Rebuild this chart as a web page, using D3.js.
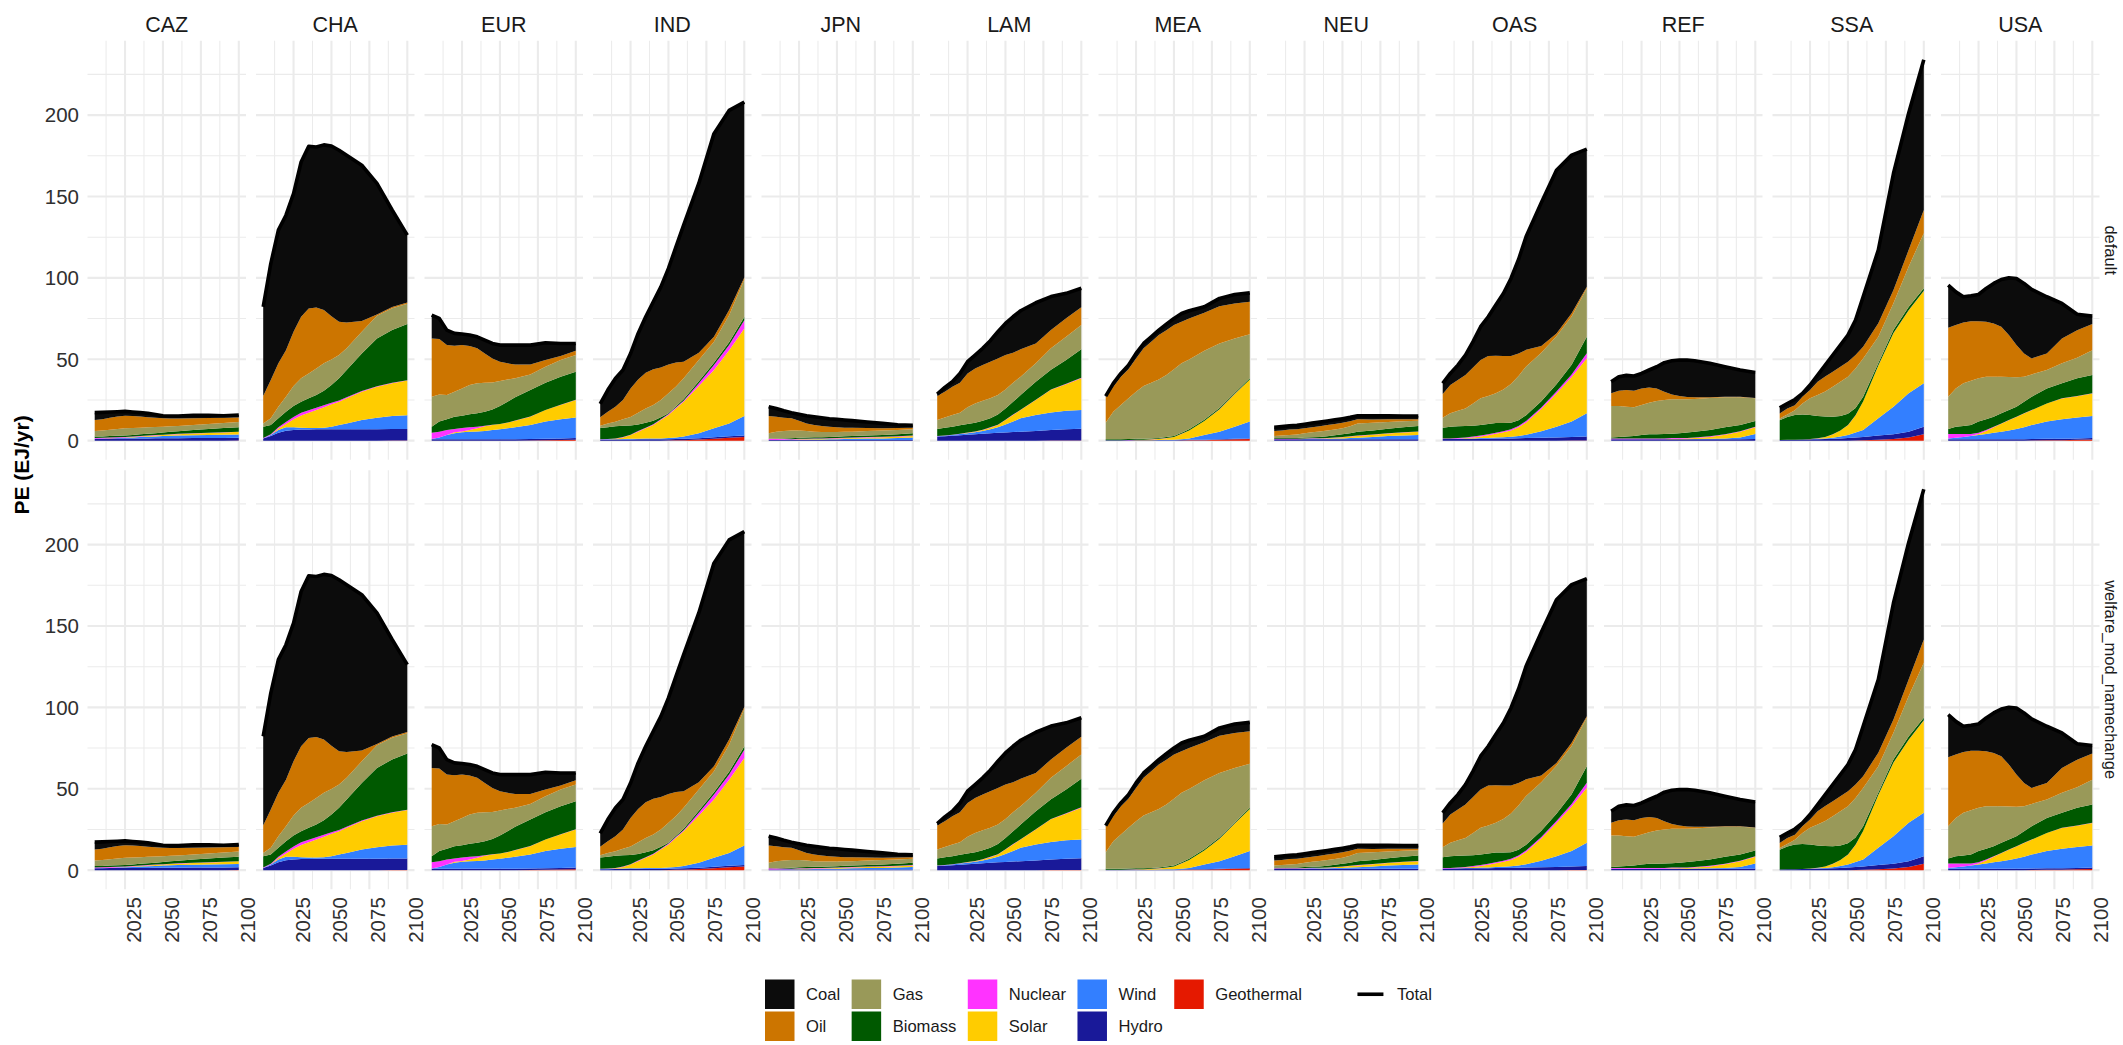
<!DOCTYPE html>
<html>
<head>
<meta charset="utf-8">
<script src="https://cdn.jsdelivr.net/npm/d3@7"></script>
<style>
  body { margin: 0; background: #ffffff; }
  svg { display: block; }
  text { font-family: "Liberation Sans", Arial, Helvetica, sans-serif; }
</style>
</head>
<body>
<svg id="chart" width="2123" height="1045"></svg>
<script>
// ---------------- DATA ----------------
const years = [2005, 2010, 2015, 2020, 2025, 2030, 2035, 2040, 2045, 2050, 2055, 2060, 2070, 2080, 2090, 2100];
const regions = ["CAZ", "CHA", "EUR", "IND", "JPN", "LAM", "MEA", "NEU", "OAS", "REF", "SSA", "USA"];
const scenarios = ["default", "welfare_mod_namechange"];
const categories = ["Coal", "Oil", "Gas", "Biomass", "Nuclear", "Solar", "Wind", "Hydro", "Geothermal"];
const categoryColors = ["#0c0c0c", "#cc7500", "#999959", "#005900", "#ff33ff", "#ffcc00", "#337fff", "#191999", "#e51900"];
const yTicks = [0, 50, 100, 150, 200];
const xTicks = [2025, 2050, 2075, 2100];
const yAxisTitle = "PE (EJ/yr)";
const totalLabel = "Total";

// Each region: rows in the order of `categories` (EJ/yr), columns follow `years`.
const CAZ = [
  [4.5, 4.2, 3.6, 3.0, 2.7, 2.4, 2.4, 2.4, 2.0, 1.6, 1.5, 1.5, 1.7, 1.6, 1.3, 1.6],
  [6.8, 6.9, 7.3, 7.7, 7.7, 7.4, 6.8, 6.2, 5.6, 5.1, 4.8, 4.6, 4.2, 3.7, 3.2, 2.8],
  [3.4, 3.7, 3.9, 4.1, 4.4, 4.3, 4.1, 4.0, 3.8, 3.6, 3.4, 3.2, 3.1, 3.1, 3.1, 3.1],
  [0.8, 0.8, 0.9, 0.9, 0.9, 0.9, 1.0, 1.1, 1.2, 1.3, 1.4, 1.6, 1.9, 2.2, 2.5, 2.8],
  [0.5, 0.5, 0.4, 0.4, 0.3, 0.3, 0.3, 0.2, 0.2, 0.2, 0.2, 0.2, 0.2, 0.2, 0.2, 0.1],
  [0.0, 0.0, 0.1, 0.1, 0.2, 0.3, 0.4, 0.5, 0.6, 0.7, 0.8, 0.9, 1.1, 1.2, 1.4, 1.6],
  [0.0, 0.1, 0.1, 0.3, 0.5, 0.6, 0.8, 1.0, 1.1, 1.3, 1.5, 1.6, 1.7, 1.9, 1.9, 2.0],
  [1.2, 1.2, 1.3, 1.3, 1.3, 1.4, 1.4, 1.4, 1.5, 1.5, 1.5, 1.5, 1.6, 1.6, 1.7, 1.7],
  [0.0, 0.0, 0.0, 0.0, 0.0, 0.0, 0.0, 0.0, 0.0, 0.0, 0.0, 0.0, 0.0, 0.0, 0.0, 0.1]
];
const CHA = [
  [54.8, 71.6, 81.8, 82.9, 84.9, 95.1, 99.7, 98.6, 101.5, 104.5, 105.4, 102.7, 95.7, 80.5, 59.6, 41.5],
  [16.8, 23.5, 26.6, 28.6, 33.3, 37.8, 39.9, 37.4, 32.7, 26.6, 20.4, 15.9, 6.6, 0.8, 0.8, 0.7],
  [2.0, 4.1, 7.2, 9.2, 12.3, 14.4, 15.3, 16.4, 16.8, 15.7, 14.3, 13.3, 13.3, 13.9, 13.3, 12.4],
  [6.9, 5.6, 5.5, 6.4, 6.7, 6.8, 7.3, 7.8, 8.9, 10.9, 13.6, 16.8, 23.1, 29.4, 32.5, 34.6],
  [0.3, 0.5, 0.8, 1.2, 1.5, 1.6, 1.5, 1.4, 1.3, 1.0, 0.8, 0.6, 0.4, 0.3, 0.2, 0.2],
  [0.0, 0.0, 0.9, 2.0, 4.9, 7.5, 9.4, 11.0, 12.5, 13.7, 14.3, 15.4, 17.4, 19.0, 20.1, 21.3],
  [0.0, 0.6, 1.6, 2.1, 1.7, 1.2, 0.9, 0.8, 1.0, 1.6, 2.6, 3.6, 5.7, 7.1, 8.1, 8.5],
  [1.4, 2.9, 4.9, 6.1, 6.5, 6.8, 6.9, 7.0, 7.0, 7.0, 7.0, 7.0, 7.0, 7.0, 7.0, 7.0],
  [0.0, 0.0, 0.0, 0.0, 0.0, 0.0, 0.0, 0.0, 0.0, 0.0, 0.0, 0.0, 0.0, 0.0, 0.1, 0.1]
];
const EUR = [
  [14.3, 12.7, 9.2, 7.6, 6.8, 6.8, 7.1, 8.2, 9.2, 10.2, 11.2, 11.9, 11.9, 10.6, 7.7, 4.5],
  [35.8, 34.0, 30.7, 28.2, 26.6, 23.9, 21.5, 18.0, 14.7, 11.9, 9.9, 8.5, 6.1, 4.1, 2.5, 2.6],
  [18.4, 16.7, 14.9, 15.4, 16.8, 18.0, 18.4, 17.8, 16.6, 15.3, 13.7, 11.7, 9.6, 9.8, 10.2, 10.3],
  [3.7, 6.2, 6.6, 7.5, 7.5, 8.0, 8.2, 8.6, 9.4, 11.0, 12.8, 14.2, 16.3, 16.7, 17.3, 17.2],
  [3.9, 3.5, 3.0, 2.1, 2.1, 1.7, 1.0, 0.4, 0.2, 0.1, 0.1, 0.1, 0.1, 0.1, 0.1, 0.1],
  [0.0, 0.0, 0.0, 0.6, 0.6, 1.0, 1.9, 2.9, 3.1, 3.2, 3.4, 4.1, 5.1, 7.1, 8.8, 10.7],
  [0.1, 1.1, 2.6, 3.6, 4.2, 4.6, 4.8, 5.0, 5.6, 6.1, 6.7, 7.3, 8.6, 10.6, 11.7, 12.7],
  [0.9, 0.9, 0.9, 0.9, 0.9, 0.9, 0.9, 0.9, 0.9, 0.9, 0.9, 0.9, 0.9, 0.9, 1.0, 1.0],
  [0.0, 0.0, 0.0, 0.0, 0.0, 0.0, 0.0, 0.0, 0.0, 0.0, 0.0, 0.0, 0.1, 0.2, 0.4, 0.6]
];
const IND = [
  [8.2, 13.3, 17.4, 18.4, 21.5, 28.3, 34.4, 41.5, 49.5, 59.0, 71.2, 83.9, 104.0, 124.8, 122.7, 107.8],
  [5.3, 7.2, 9.2, 11.9, 17.4, 20.4, 21.9, 21.9, 20.0, 17.7, 14.8, 10.2, 4.5, 3.0, 3.1, 1.2],
  [1.4, 2.4, 2.7, 3.9, 5.3, 7.2, 8.8, 9.6, 10.6, 12.2, 12.1, 12.8, 13.0, 12.9, 16.6, 23.0],
  [6.8, 7.2, 7.5, 6.9, 5.6, 4.1, 3.0, 2.2, 1.2, 0.6, 0.6, 1.0, 1.3, 1.5, 1.8, 2.0],
  [0.2, 0.2, 0.3, 0.3, 0.3, 0.4, 0.4, 0.5, 0.5, 0.5, 0.6, 0.6, 1.6, 3.0, 3.1, 5.1],
  [0.0, 0.0, 0.2, 1.0, 2.3, 4.3, 6.3, 8.3, 11.3, 14.2, 18.0, 21.4, 29.1, 35.8, 45.0, 53.8],
  [0.1, 0.2, 0.2, 0.3, 0.4, 0.4, 0.5, 0.5, 0.6, 0.7, 0.9, 1.4, 3.0, 5.5, 7.9, 11.9],
  [0.6, 0.6, 0.7, 0.7, 0.7, 0.8, 0.8, 0.8, 0.8, 0.8, 0.8, 0.8, 0.8, 0.9, 0.9, 1.0],
  [0.0, 0.0, 0.0, 0.0, 0.0, 0.0, 0.0, 0.0, 0.0, 0.1, 0.2, 0.3, 0.7, 1.2, 1.8, 2.2]
];
const JPN = [
  [5.8, 5.1, 4.3, 3.5, 3.9, 4.7, 5.1, 5.1, 4.9, 4.9, 4.7, 4.3, 3.7, 3.0, 2.0, 1.4],
  [10.6, 9.2, 8.2, 7.4, 6.0, 4.7, 4.1, 3.7, 3.3, 2.9, 2.6, 2.5, 1.9, 1.4, 1.3, 1.0],
  [3.2, 4.3, 4.5, 4.8, 4.5, 4.0, 3.4, 3.2, 3.0, 2.9, 2.7, 2.7, 2.7, 2.7, 2.6, 2.5],
  [0.1, 0.2, 0.4, 0.6, 0.7, 0.8, 0.8, 0.8, 0.8, 0.8, 0.9, 0.9, 1.0, 1.1, 1.2, 1.3],
  [0.8, 0.6, 0.4, 0.3, 0.3, 0.3, 0.3, 0.3, 0.3, 0.3, 0.3, 0.3, 0.3, 0.3, 0.3, 0.3],
  [0.0, 0.0, 0.1, 0.1, 0.2, 0.2, 0.3, 0.3, 0.4, 0.4, 0.5, 0.5, 0.6, 0.7, 0.8, 1.0],
  [0.0, 0.0, 0.1, 0.1, 0.2, 0.2, 0.3, 0.3, 0.4, 0.5, 0.6, 0.7, 0.9, 1.0, 1.2, 1.5],
  [0.4, 0.4, 0.4, 0.4, 0.4, 0.4, 0.4, 0.4, 0.4, 0.4, 0.4, 0.4, 0.4, 0.4, 0.4, 0.4],
  [0.0, 0.0, 0.0, 0.0, 0.0, 0.0, 0.0, 0.0, 0.0, 0.0, 0.0, 0.0, 0.0, 0.0, 0.0, 0.0]
];
const LAM = [
  [1.2, 2.6, 3.1, 5.7, 7.2, 8.2, 10.3, 12.9, 16.4, 19.4, 22.1, 23.7, 25.0, 20.5, 15.3, 11.7],
  [14.7, 15.8, 17.3, 18.4, 20.8, 21.5, 21.9, 22.5, 22.5, 21.1, 18.4, 16.8, 12.2, 11.2, 11.3, 10.8],
  [5.5, 6.3, 7.2, 7.8, 10.3, 11.9, 12.2, 12.3, 11.9, 11.7, 11.7, 11.3, 11.3, 13.3, 14.3, 14.9],
  [4.3, 4.8, 4.9, 5.1, 5.2, 5.3, 5.6, 5.5, 6.3, 6.9, 7.9, 9.0, 11.0, 12.1, 14.7, 17.6],
  [0.2, 0.2, 0.2, 0.2, 0.2, 0.2, 0.2, 0.2, 0.2, 0.2, 0.2, 0.2, 0.2, 0.2, 0.2, 0.2],
  [0.0, 0.0, 0.0, 0.0, 0.2, 0.4, 0.6, 1.0, 1.4, 2.7, 4.1, 5.1, 9.2, 13.9, 16.4, 19.5],
  [0.2, 0.3, 0.5, 0.8, 1.0, 1.2, 1.7, 2.5, 3.4, 5.0, 6.4, 8.2, 9.8, 10.7, 11.3, 11.6],
  [2.5, 2.7, 3.0, 3.3, 3.6, 3.9, 4.2, 4.5, 4.8, 5.0, 5.3, 5.5, 6.0, 6.5, 6.9, 7.2],
  [0.0, 0.0, 0.0, 0.0, 0.0, 0.0, 0.0, 0.0, 0.0, 0.0, 0.0, 0.0, 0.0, 0.1, 0.1, 0.1]
];
const MEA = [
  [0.8, 2.1, 2.0, 2.6, 3.1, 3.0, 3.0, 3.0, 3.7, 4.1, 5.1, 4.7, 3.6, 4.8, 5.5, 5.5],
  [15.6, 15.3, 17.4, 17.8, 20.4, 23.1, 25.2, 27.3, 27.6, 27.2, 25.5, 25.2, 23.4, 22.9, 21.5, 20.0],
  [10.2, 17.0, 21.1, 25.0, 29.0, 32.4, 34.2, 35.9, 38.1, 40.9, 42.7, 42.9, 42.4, 39.7, 33.5, 27.0],
  [0.5, 0.5, 0.5, 0.6, 0.6, 0.6, 0.6, 0.6, 0.6, 0.6, 0.6, 0.7, 0.7, 0.7, 0.7, 0.7],
  [0.0, 0.0, 0.0, 0.1, 0.1, 0.1, 0.1, 0.1, 0.1, 0.1, 0.1, 0.1, 0.1, 0.1, 0.1, 0.1],
  [0.0, 0.0, 0.0, 0.0, 0.1, 0.2, 0.4, 0.6, 1.0, 1.6, 3.2, 4.8, 8.5, 13.7, 19.9, 25.8],
  [0.0, 0.0, 0.0, 0.0, 0.0, 0.0, 0.0, 0.1, 0.2, 0.3, 0.5, 0.9, 2.9, 4.7, 7.5, 10.4],
  [0.3, 0.3, 0.3, 0.3, 0.3, 0.3, 0.3, 0.3, 0.3, 0.3, 0.3, 0.3, 0.3, 0.3, 0.3, 0.3],
  [0.0, 0.0, 0.0, 0.0, 0.0, 0.0, 0.0, 0.0, 0.0, 0.0, 0.1, 0.2, 0.3, 0.5, 0.8, 1.0]
];
const NEU = [
  [2.3, 2.3, 2.3, 2.4, 2.5, 2.5, 2.5, 2.5, 2.5, 2.5, 2.4, 2.2, 2.2, 2.2, 2.0, 2.0],
  [3.0, 3.2, 3.3, 3.2, 3.1, 3.2, 3.3, 3.4, 3.4, 3.4, 3.0, 2.5, 2.0, 1.6, 1.2, 0.8],
  [1.3, 1.5, 1.8, 2.1, 2.6, 3.0, 3.3, 3.5, 3.6, 3.7, 4.3, 5.2, 4.7, 4.2, 3.7, 3.3],
  [0.5, 0.5, 0.5, 0.5, 0.5, 0.6, 0.8, 1.0, 1.3, 1.6, 1.9, 2.3, 2.5, 2.7, 3.0, 3.3],
  [0.3, 0.3, 0.3, 0.3, 0.3, 0.3, 0.2, 0.2, 0.2, 0.2, 0.2, 0.2, 0.2, 0.2, 0.2, 0.2],
  [0.0, 0.0, 0.0, 0.0, 0.1, 0.1, 0.2, 0.3, 0.5, 0.7, 0.9, 1.1, 1.3, 1.6, 1.8, 2.0],
  [0.0, 0.0, 0.1, 0.1, 0.2, 0.3, 0.3, 0.4, 0.5, 0.6, 0.8, 1.0, 1.5, 2.0, 2.4, 2.7],
  [0.8, 0.8, 0.8, 0.8, 0.8, 0.8, 0.8, 0.8, 0.8, 0.8, 0.8, 0.8, 0.8, 0.8, 0.8, 0.8],
  [0.0, 0.0, 0.0, 0.0, 0.0, 0.0, 0.0, 0.0, 0.0, 0.0, 0.0, 0.0, 0.0, 0.0, 0.0, 0.0]
];
const OAS = [
  [6.6, 7.1, 9.2, 12.3, 15.8, 20.5, 24.1, 31.1, 38.4, 47.6, 57.7, 69.6, 88.0, 100.2, 97.2, 84.5],
  [14.5, 17.4, 18.8, 20.5, 22.1, 23.5, 24.6, 23.1, 20.5, 17.2, 13.9, 10.2, 4.1, 1.7, 2.0, 1.0],
  [6.1, 8.2, 9.6, 10.8, 13.7, 16.4, 17.2, 18.3, 20.7, 23.8, 27.2, 30.0, 29.8, 29.5, 29.6, 29.7],
  [6.7, 7.3, 7.2, 7.0, 6.7, 6.5, 6.3, 6.0, 5.0, 4.0, 3.5, 3.5, 3.8, 4.5, 6.0, 10.2],
  [0.3, 0.3, 0.4, 0.4, 0.5, 0.5, 0.6, 0.6, 0.7, 0.7, 0.8, 0.9, 1.0, 1.2, 1.5, 3.1],
  [0.0, 0.0, 0.1, 0.3, 0.6, 1.0, 1.6, 2.3, 3.0, 3.9, 5.4, 7.6, 13.6, 20.4, 27.3, 33.7],
  [0.0, 0.0, 0.1, 0.2, 0.3, 0.4, 0.5, 0.6, 0.8, 1.0, 1.3, 2.0, 4.0, 6.6, 9.5, 14.3],
  [1.0, 1.0, 1.0, 1.1, 1.1, 1.2, 1.2, 1.3, 1.3, 1.4, 1.5, 1.6, 1.8, 2.0, 2.2, 2.5],
  [0.0, 0.0, 0.0, 0.0, 0.0, 0.0, 0.0, 0.0, 0.0, 0.0, 0.0, 0.0, 0.0, 0.0, 0.1, 0.1]
];
const REF = [
  [7.1, 8.6, 9.0, 9.0, 9.2, 10.7, 13.3, 17.8, 20.7, 22.1, 22.7, 22.5, 20.9, 18.4, 16.4, 15.7],
  [7.8, 9.4, 10.2, 10.2, 10.2, 9.4, 7.8, 5.1, 3.0, 2.0, 1.4, 1.0, 0.4, 0.4, 0.4, 0.2],
  [19.3, 19.0, 18.3, 17.6, 18.5, 19.4, 20.3, 20.9, 21.1, 20.9, 20.4, 20.1, 19.7, 18.4, 17.0, 13.9],
  [0.6, 0.9, 1.2, 1.5, 2.0, 2.5, 2.6, 2.7, 2.7, 2.8, 3.3, 3.5, 3.8, 4.3, 3.8, 3.6],
  [0.6, 0.6, 0.6, 0.6, 0.6, 0.6, 0.5, 0.5, 0.5, 0.5, 0.4, 0.4, 0.4, 0.3, 0.3, 0.3],
  [0.0, 0.0, 0.0, 0.0, 0.0, 0.0, 0.1, 0.1, 0.2, 0.3, 0.4, 0.6, 1.2, 2.2, 3.5, 4.1],
  [0.0, 0.0, 0.0, 0.0, 0.0, 0.0, 0.0, 0.0, 0.1, 0.1, 0.1, 0.2, 0.3, 0.6, 1.2, 3.1],
  [0.8, 0.8, 0.8, 0.8, 0.8, 0.8, 0.8, 0.8, 0.8, 0.8, 0.8, 0.8, 0.8, 0.8, 0.8, 1.0],
  [0.0, 0.0, 0.0, 0.0, 0.0, 0.0, 0.0, 0.0, 0.0, 0.0, 0.0, 0.0, 0.0, 0.0, 0.0, 0.0]
];
const SSA = [
  [3.5, 3.0, 3.5, 2.1, 3.1, 4.1, 7.1, 10.3, 13.3, 16.4, 21.5, 30.7, 45.0, 71.5, 84.0, 92.3],
  [3.1, 3.7, 3.1, 4.1, 5.1, 8.2, 9.2, 9.2, 9.2, 9.2, 8.2, 7.2, 8.2, 8.2, 10.2, 14.3],
  [1.0, 1.5, 3.0, 6.7, 10.2, 12.9, 15.4, 18.4, 21.1, 22.8, 24.4, 23.5, 16.3, 16.4, 24.8, 33.8],
  [12.2, 14.1, 15.1, 15.4, 14.8, 13.6, 12.5, 10.8, 8.8, 6.9, 4.4, 2.9, 1.5, 1.9, 2.0, 1.5],
  [0.0, 0.0, 0.0, 0.0, 0.0, 0.1, 0.1, 0.1, 0.1, 0.1, 0.1, 0.1, 0.1, 0.1, 0.1, 0.1],
  [0.0, 0.0, 0.0, 0.0, 0.1, 0.3, 0.8, 2.0, 3.7, 6.0, 10.5, 17.5, 32.3, 45.1, 50.9, 56.8],
  [0.0, 0.0, 0.0, 0.0, 0.1, 0.2, 0.4, 0.6, 1.1, 1.9, 3.1, 4.3, 10.6, 16.9, 23.6, 26.7],
  [0.4, 0.5, 0.6, 0.7, 0.8, 0.9, 1.0, 1.2, 1.4, 1.6, 1.8, 2.0, 2.6, 3.0, 3.5, 4.5],
  [0.0, 0.0, 0.0, 0.0, 0.0, 0.0, 0.0, 0.0, 0.0, 0.0, 0.1, 0.2, 0.5, 1.0, 2.0, 4.0]
];
const USA = [
  [26.1, 20.4, 15.8, 15.6, 16.4, 20.5, 24.6, 29.0, 35.1, 40.9, 43.0, 42.4, 34.8, 21.5, 9.8, 4.9],
  [42.4, 38.9, 37.4, 36.6, 35.1, 33.7, 32.7, 30.7, 25.8, 19.8, 14.3, 9.8, 10.2, 15.3, 17.0, 16.0],
  [19.8, 23.5, 26.2, 27.2, 26.6, 26.2, 24.6, 22.5, 20.3, 18.0, 15.4, 13.7, 11.3, 12.3, 12.6, 15.3],
  [3.1, 4.5, 4.9, 5.5, 6.8, 6.6, 6.1, 6.2, 6.1, 6.2, 7.1, 8.2, 9.2, 9.2, 10.9, 11.2],
  [2.7, 2.3, 1.8, 1.2, 0.8, 0.5, 0.3, 0.2, 0.1, 0.1, 0.1, 0.1, 0.1, 0.1, 0.1, 0.1],
  [0.0, 0.0, 0.0, 0.0, 0.6, 1.9, 3.5, 4.9, 6.3, 7.4, 8.4, 9.1, 11.1, 12.8, 13.0, 13.9],
  [0.5, 0.9, 1.4, 2.0, 2.6, 3.2, 3.9, 4.6, 5.4, 6.3, 7.4, 8.6, 10.6, 11.9, 12.9, 13.5],
  [0.9, 0.9, 0.9, 0.9, 0.9, 0.9, 0.9, 0.9, 0.9, 0.9, 0.9, 0.9, 0.9, 0.9, 0.9, 0.9],
  [0.0, 0.0, 0.0, 0.0, 0.0, 0.0, 0.0, 0.0, 0.0, 0.0, 0.0, 0.1, 0.2, 0.3, 0.5, 0.7]
];

// Both scenario rows in the reference show the same values.
const regionData = { CAZ, CHA, EUR, IND, JPN, LAM, MEA, NEU, OAS, REF, SSA, USA };
const scenarioData = { "default": regionData, "welfare_mod_namechange": regionData };

// ---------------- LAYOUT ----------------
const L = {
  px0: 87.5, pstep: 168.5, pw: 158.5,
  rowTop: [40.7, 470.2], ph: 419,
  stripY: 31.7, rightStripX: 2105,
  legendX: 765, legendRowY: [979.5, 1011.5], keySize: 29.5
};
const gridCol = "#ebebeb";
const svg = d3.select("#chart");

const colorOf = d3.scaleOrdinal().domain(categories).range(categoryColors);
const stackKeys = categories.slice().reverse(); // bottom -> top

function rowsFor(arr) {
  return years.map((yr, i) => {
    const o = { year: yr };
    categories.forEach((c, k) => { o[c] = arr[k][i]; });
    o.total = d3.sum(categories, (c, k) => arr[k][i]);
    return o;
  });
}

let maxTotal = 0;
scenarios.forEach(sc => regions.forEach(r => {
  rowsFor(scenarioData[sc][r]).forEach(d => { maxTotal = Math.max(maxTotal, d.total); });
}));

const xMin = d3.min(years), xMax = d3.max(years), xPad = (xMax - xMin) * 0.05;
const x = d3.scaleLinear().domain([xMin - xPad, xMax + xPad]).range([0, L.pw]);
const y = d3.scaleLinear().domain([-0.05 * maxTotal, 1.05 * maxTotal]).range([L.ph, 0]);

// minor breaks
const xMajorAll = d3.range(2000, 2101, 25);
const xMinor = xMajorAll.slice(0, -1).map((v, i) => (v + xMajorAll[i + 1]) / 2)
  .filter(v => v >= x.domain()[0] && v <= x.domain()[1]);
const yMajorAll = d3.range(0, 251, 50);
const yMinor = yMajorAll.slice(0, -1).map((v, i) => (v + yMajorAll[i + 1]) / 2)
  .filter(v => v >= y.domain()[0] && v <= y.domain()[1]);
const yMajor = yTicks.filter(v => v <= y.domain()[1]);

const stack = d3.stack().keys(stackKeys);
const area = d3.area().x(d => x(d.data.year)).y0(d => y(d[0])).y1(d => y(d[1]));
const totalLine = d3.line().x(d => x(d.year)).y(d => y(d.total));

scenarios.forEach((sc, ri) => {
  regions.forEach((reg, ci) => {
    const g = svg.append("g")
      .attr("transform", `translate(${L.px0 + ci * L.pstep},${L.rowTop[ri]})`);
    // grid
    g.selectAll("line.ymin").data(yMinor).join("line")
      .attr("x1", 0).attr("x2", L.pw).attr("y1", d => y(d)).attr("y2", d => y(d))
      .attr("stroke", gridCol).attr("stroke-width", 1.05);
    g.selectAll("line.xmin").data(xMinor).join("line")
      .attr("y1", 0).attr("y2", L.ph).attr("x1", d => x(d)).attr("x2", d => x(d))
      .attr("stroke", gridCol).attr("stroke-width", 1.05);
    g.selectAll("line.ymaj").data(yMajor).join("line")
      .attr("x1", 0).attr("x2", L.pw).attr("y1", d => y(d)).attr("y2", d => y(d))
      .attr("stroke", gridCol).attr("stroke-width", 2.1);
    g.selectAll("line.xmaj").data(xTicks).join("line")
      .attr("y1", 0).attr("y2", L.ph).attr("x1", d => x(d)).attr("x2", d => x(d))
      .attr("stroke", gridCol).attr("stroke-width", 2.1);

    const rows = rowsFor(scenarioData[sc][reg]);
    const series = stack(rows);
    g.selectAll("path.area").data(series).join("path")
      .attr("class", "area")
      .attr("d", area)
      .attr("fill", d => colorOf(d.key));
    g.append("path")
      .datum(rows)
      .attr("d", totalLine)
      .attr("fill", "none")
      .attr("stroke", "#000")
      .attr("stroke-width", 3.6)
      .attr("stroke-linejoin", "round");

    // top strips
    if (ri === 0) {
      svg.append("text")
        .attr("x", L.px0 + ci * L.pstep + L.pw / 2).attr("y", L.stripY)
        .attr("text-anchor", "middle").attr("font-size", 21.5).attr("fill", "#1a1a1a")
        .text(reg);
    }
    // y axis labels
    if (ci === 0) {
      yTicks.forEach(t => {
        svg.append("text")
          .attr("x", L.px0 - 8.5).attr("y", L.rowTop[ri] + y(t)).attr("dy", "0.36em")
          .attr("text-anchor", "end").attr("font-size", 20.5).attr("fill", "#303030")
          .text(t);
      });
    }
    // x axis labels (bottom row only)
    if (ri === scenarios.length - 1) {
      xTicks.forEach(t => {
        const tx = L.px0 + ci * L.pstep + x(t) + 16;
        const ty = L.rowTop[ri] + L.ph + 8;
        svg.append("text")
          .attr("transform", `translate(${tx},${ty}) rotate(-90)`)
          .attr("text-anchor", "end").attr("font-size", 20.5).attr("fill", "#303030")
          .text(t);
      });
    }
  });
  // right strips
  svg.append("text")
    .attr("transform", `translate(${L.rightStripX},${L.rowTop[ri] + L.ph / 2}) rotate(90)`)
    .attr("text-anchor", "middle").attr("font-size", 16.5).attr("fill", "#1a1a1a")
    .text(sc);
});

// y axis title
svg.append("text")
  .attr("transform", `translate(28.5,${(L.rowTop[0] + L.rowTop[1] + L.ph) / 2}) rotate(-90)`)
  .attr("text-anchor", "middle").attr("font-size", 21).attr("font-weight", "bold").attr("fill", "#000")
  .text(yAxisTitle);

// ---------------- LEGEND ----------------
const legFont = 16.6, gapTxt = 11.5;
const lg = svg.append("g");
const nRows = 2;
const nCols = Math.ceil(categories.length / nRows);
let colX = L.legendX;
let legendEnd = colX;
for (let c = 0; c < nCols; c++) {
  const items = categories.slice(c * nRows, c * nRows + nRows);
  let maxW = 0;
  items.forEach((cat, r) => {
    lg.append("rect")
      .attr("x", colX).attr("y", L.legendRowY[r])
      .attr("width", L.keySize).attr("height", L.keySize)
      .attr("fill", colorOf(cat));
    const t = lg.append("text")
      .attr("x", colX + L.keySize + gapTxt).attr("y", L.legendRowY[r] + L.keySize / 2)
      .attr("dy", "0.35em").attr("font-size", legFont).attr("fill", "#1a1a1a")
      .text(cat);
    maxW = Math.max(maxW, t.node().getComputedTextLength());
  });
  legendEnd = colX + L.keySize + gapTxt + maxW;
  colX = legendEnd + gapTxt;
}
// Total line legend
const tkx = legendEnd + 54;
lg.append("line")
  .attr("x1", tkx + 1.5).attr("x2", tkx + L.keySize - 2)
  .attr("y1", L.legendRowY[0] + L.keySize / 2).attr("y2", L.legendRowY[0] + L.keySize / 2)
  .attr("stroke", "#000").attr("stroke-width", 3.6);
lg.append("text")
  .attr("x", tkx + L.keySize + gapTxt).attr("y", L.legendRowY[0] + L.keySize / 2)
  .attr("dy", "0.35em").attr("font-size", legFont).attr("fill", "#1a1a1a")
  .text(totalLabel);
</script>
</body>
</html>
